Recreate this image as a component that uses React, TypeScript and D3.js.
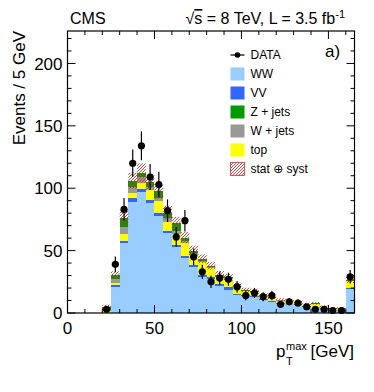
import React from "react";
import * as d3 from "d3";

// 5 GeV bins, low edges (last bin is overflow)
const binLow = [20, 25, 30, 35, 40, 45, 50, 55, 60, 65, 70, 75, 80, 85, 90, 95, 100, 105, 110, 115, 120, 125, 130, 135, 140, 145, 150, 155, 160];

const dataEvents = [3, 39, 83, 120, 134, 109, 103, 82, 61, 74, 45, 33, 25, 28, 27, 21, 14, 16, 13, 14, 7, 9, 8, 5, 3, 3, 2, 2, 29];

const wwVals = [0, 20.6, 55.8, 89, 97, 88, 78, 64, 53, 44, 36.6, 29, 27.5, 22, 18.5, 14.4, 13.5, 12.5, 10.4, 9, 7.5, 7, 6.5, 5, 4.5, 3.5, 2.5, 2.2, 19];
const vvVals = [0.3, 1.8, 1.8, 3, 2.7, 2.7, 2.5, 2, 1.5, 1.8, 1.8, 1.5, 1.5, 1.5, 2, 1, 0.8, 0.8, 0.6, 0.6, 0.5, 0.5, 0.4, 0.4, 0.4, 0.3, 0.2, 0.2, 1];
const topVals = [1.2, 2, 5.6, 4.5, 4.5, 7.5, 9, 7, 8.5, 10, 8, 10.5, 7, 5.5, 6.5, 5.5, 3.2, 3.3, 2.8, 2.5, 2, 2, 1.8, 1.5, 2.5, 1.2, 0.8, 1.2, 5.3];
const wjetsVals = [0.8, 3, 5.9, 4.5, 4.8, 3, 3, 3, 3, 2, 1.5, 1, 1, 0.8, 0.8, 0.5, 0.3, 0.3, 0.3, 0.2, 0.2, 0.2, 0.2, 0.1, 0.1, 0.1, 0.1, 0.1, 0.5];
const zjetsVals = [2.5, 3, 7, 5, 3, 3.6, 5, 4.5, 6, 2.5, 2, 1.5, 1, 0.8, 0.8, 0.6, 0.5, 0.6, 0.4, 0.3, 0.3, 0.3, 0.2, 0.2, 0.2, 0.1, 0.1, 0.1, 0.7];
const systVals = [1.8, 3, 6, 6.5, 8, 6, 6, 5.5, 5, 4.5, 4, 3.5, 3, 3, 2.8, 2.3, 2, 2, 1.7, 1.5, 1.3, 1.3, 1.2, 1, 1.1, 0.8, 0.7, 0.7, 2.5];

const yMajor = [0, 50, 100, 150, 200];
const xMajor = [0, 50, 100, 150];

const W = 374;
const H = 392;
const FONT = "'Liberation Sans', Arial, Helvetica, sans-serif";
const BIN = 5;

const series = [
  { key: "ww", label: "WW", color: "#99ccff", values: wwVals },
  { key: "vv", label: "VV", color: "#3366ff", values: vvVals },
  { key: "top", label: "top", color: "#ffff00", values: topVals },
  { key: "wjets", label: "W + jets", color: "#999999", values: wjetsVals },
  { key: "zjets", label: "Z + jets", color: "#009900", values: zjetsVals },
];

const legendOrder = ["ww", "vv", "zjets", "wjets", "top"];

export default function App() {
  const x = d3.scaleLinear().domain([0, 165]).range([67.5, 354.5]);
  const y = d3.scaleLinear().domain([0, 226]).range([313, 31]);
  const [x0, x1] = x.range();
  const [yb, yt] = y.range();

  const rows = binLow.map((lo, i) => {
    const r: any = { lo };
    series.forEach((s) => (r[s.key] = s.values[i]));
    return r;
  });
  const stacked = d3.stack().keys(series.map((s) => s.key))(rows);
  const totals = rows.map((r) => d3.sum(series, (s) => r[s.key]));

  const yMinor = d3.range(0, 226, 10);
  const xMinor = d3.range(0, 166, 10);

  const legendX = 230.5;
  const legendY0 = 55;
  const legendStep = 19;

  return (
    <svg
      width={W}
      height={H}
      style={{ position: "absolute", left: 0, top: 0, background: "#fff" }}
      fontFamily={FONT}
    >
      <defs>
        <pattern id="hatch" patternUnits="userSpaceOnUse" width="3" height="3">
          <path d="M-1,1 l2,-2 M0,3 l3,-3 M2,4 l2,-2" stroke="#cc3333" strokeWidth="0.9" />
        </pattern>
      </defs>

      {/* stacked backgrounds */}
      {stacked.map((layer, li) => (
        <g key={layer.key} fill={series[li].color} shapeRendering="crispEdges">
          {layer.map((d, i) => {
            const lo = binLow[i];
            const h = y(d[0]) - y(d[1]);
            if (h <= 0) return null;
            return (
              <rect key={lo} x={x(lo)} width={x(lo + BIN) - x(lo)} y={y(d[1])} height={h} />
            );
          })}
        </g>
      ))}

      {/* stat + syst band */}
      <g fill="url(#hatch)">
        {binLow.map((lo, i) => (
          <rect
            key={lo}
            x={x(lo)}
            width={x(lo + BIN) - x(lo)}
            y={y(totals[i] + systVals[i])}
            height={y(totals[i] - systVals[i]) - y(totals[i] + systVals[i])}
          />
        ))}
      </g>

      {/* data */}
      <g>
        {binLow.map((lo, i) => {
          const n = dataEvents[i];
          const e = Math.sqrt(n);
          const cx = x(lo + BIN / 2);
          return (
            <g key={lo}>
              <line x1={cx} x2={cx} y1={y(n + e)} y2={y(Math.max(0, n - e))} stroke="#000" strokeWidth={1.2} />
              <circle cx={cx} cy={y(n)} r={3.6} fill="#000" />
            </g>
          );
        })}
      </g>

      {/* frame and ticks */}
      <rect x={x0} y={yt} width={x1 - x0} height={yb - yt} fill="none" stroke="#000" strokeWidth={1.2} />
      <g stroke="#000" strokeWidth={1}>
        {yMinor.map((v) => {
          const len = v % 50 === 0 ? 8 : 4;
          return (
            <g key={"y" + v}>
              <line x1={x0} x2={x0 + len} y1={y(v)} y2={y(v)} />
              <line x1={x1} x2={x1 - len} y1={y(v)} y2={y(v)} />
            </g>
          );
        })}
        {xMinor.map((v) => {
          const len = v % 50 === 0 ? 8 : 4;
          return (
            <g key={"x" + v}>
              <line x1={x(v)} x2={x(v)} y1={yb} y2={yb - len} />
              <line x1={x(v)} x2={x(v)} y1={yt} y2={yt + len} />
            </g>
          );
        })}
      </g>

      {/* tick labels */}
      <g fontSize={17} fill="#000">
        {yMajor.map((v) => (
          <text key={v} x={x0 - 5} y={y(v)} dy="0.36em" textAnchor="end">
            {v}
          </text>
        ))}
        {xMajor.map((v) => (
          <text key={v} x={x(v)} y={334} textAnchor="middle">
            {v}
          </text>
        ))}
      </g>

      {/* axis titles */}
      <text
        transform={`translate(25,${yt}) rotate(-90)`}
        textAnchor="end"
        fontSize={17}
      >
        Events / 5 GeV
      </text>
      <g fill="#000">
        <text x={276} y={357} fontSize={17}>p</text>
        <text x={286} y={365} fontSize={11}>T</text>
        <text x={286} y={350} fontSize={11}>max</text>
        <text x={354} y={357} fontSize={17} textAnchor="end">[GeV]</text>
      </g>

      {/* header */}
      <text x={70} y={24} fontSize={16}>CMS</text>
      <text x={345} y={24} fontSize={16} textAnchor="end">
        √<tspan style={{ textDecoration: "overline" }}>s</tspan> = 8 TeV, L = 3.5 fb
        <tspan dy={-6} fontSize={11}>-1</tspan>
      </text>
      <text x={325} y={57} fontSize={17}>a)</text>

      {/* legend */}
      <g fontSize={12}>
        <line x1={legendX} x2={legendX + 14} y1={legendY0} y2={legendY0} stroke="#000" strokeWidth={1.2} />
        <circle cx={legendX + 7} cy={legendY0} r={2.8} fill="#000" />
        <text x={250.5} y={legendY0} dy="0.36em">DATA</text>
        {legendOrder.map((k, i) => {
          const s = series.find((d) => d.key === k)!;
          const cy = legendY0 + legendStep * (i + 1);
          return (
            <g key={k}>
              <rect x={legendX} y={cy - 6.5} width={14} height={13} fill={s.color} />
              <text x={250.5} y={cy} dy="0.36em">{s.label}</text>
            </g>
          );
        })}
        <rect
          x={legendX}
          y={legendY0 + legendStep * 6 - 6.5}
          width={14}
          height={13}
          fill="url(#hatch)"
          stroke="#cc3333"
          strokeWidth={0.8}
        />
        <text x={250.5} y={legendY0 + legendStep * 6} dy="0.36em">
          stat <tspan fontSize={12} fontFamily="'DejaVu Sans', sans-serif">⊕</tspan> syst
        </text>
      </g>
    </svg>
  );
}
